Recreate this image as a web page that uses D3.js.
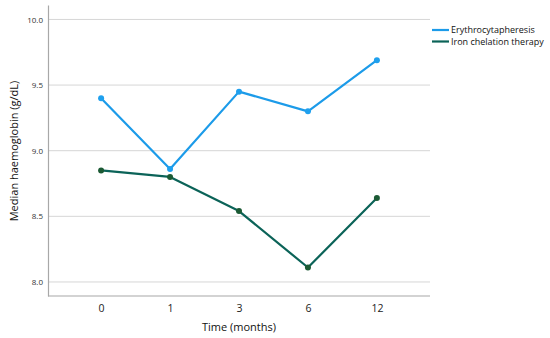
<!DOCTYPE html>
<html><head><meta charset="utf-8">
<script src="https://cdn.jsdelivr.net/npm/d3@7"></script>
<style>body{margin:0;background:#fff;} svg{display:block;font-family:"Open Sans",sans-serif;}</style>
</head><body>
<script>
const categories = ["0","1","3","6","12"];
const erythro = [9.40, 8.86, 9.45, 9.30, 9.69];
const ironChel = [8.85, 8.80, 8.54, 8.11, 8.64];
const yTicks = [8.0, 8.5, 9.0, 9.5, 10.0];
const seriesNames = ["Erythrocytapheresis", "Iron chelation therapy"];
const lineColors = ["#1c9be9", "#0b6358"];
const markerColors = ["#1fa0ee", "#1b5a34"];

const W = 550, H = 338;
const svg = d3.select("body").append("svg").attr("width", W).attr("height", H);
const x = d3.scalePoint().domain(categories).range([48, 430]).padding(0.77);
const y = d3.scaleLinear().domain([7.893, 10.11]).range([296, 5]);

// gridlines
svg.append("g").selectAll("line").data(yTicks).join("line")
  .attr("x1", 48).attr("x2", 430).attr("y1", d => y(d)).attr("y2", d => y(d))
  .attr("stroke", "#d6d6d6").attr("stroke-width", 1);

// y axis
const ya = svg.append("g").attr("transform", "translate(48,0)")
  .call(d3.axisLeft(y).tickValues(yTicks).tickFormat(d3.format(".1f")).tickSize(0).tickPadding(5));
ya.select(".domain").attr("stroke", "#a8a8a8").attr("stroke-width", 1.2);
ya.selectAll("text").attr("font-size", 8).attr("fill", "#333").attr("font-family", "Open Sans, sans-serif");

// x axis
const xa = svg.append("g").attr("transform", "translate(0,296)")
  .call(d3.axisBottom(x).tickSize(0).tickPadding(9));
xa.select(".domain").attr("stroke", "#a8a8a8").attr("stroke-width", 1.2).attr("d", "M48,0H430");
xa.selectAll("text").attr("font-size", 10.5).attr("fill", "#222").attr("font-family", "Open Sans, sans-serif");

// titles
svg.append("text").attr("transform", "translate(18,151) rotate(-90)").attr("text-anchor", "middle")
  .attr("font-size", 11).attr("fill", "#111").text("Median haemoglobin (g/dL)");
svg.append("text").attr("x", 239).attr("y", 331).attr("text-anchor", "middle")
  .attr("font-size", 11).attr("fill", "#111").text("Time (months)");

const data = [erythro, ironChel];
const line = d3.line().x((d, i) => x(categories[i])).y(d => y(d));
data.forEach((s, k) => {
  svg.append("path").datum(s).attr("d", line).attr("fill", "none")
    .attr("stroke", lineColors[k]).attr("stroke-width", 2.2).attr("stroke-linejoin", "round");
  svg.append("g").selectAll("circle").data(s).join("circle")
    .attr("cx", (d, i) => x(categories[i])).attr("cy", d => y(d)).attr("r", 3)
    .attr("fill", markerColors[k]);
});

// legend
const lg = svg.append("g");
seriesNames.forEach((n, k) => {
  const yy = 30 + k * 11.5;
  lg.append("line").attr("x1", 432).attr("x2", 449).attr("y1", yy).attr("y2", yy)
    .attr("stroke", lineColors[k]).attr("stroke-width", 2.2);
  lg.append("text").attr("x", 451).attr("y", yy + 3).attr("font-size", 9).attr("fill", "#111").text(n);
});
</script>
</body></html>
